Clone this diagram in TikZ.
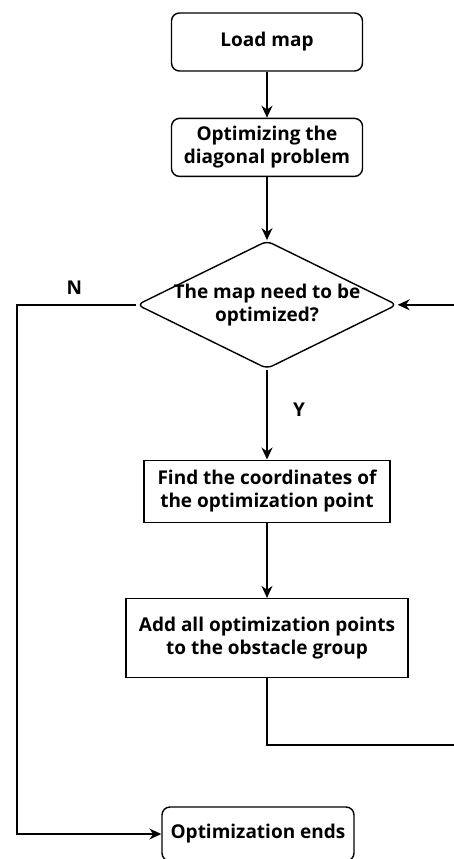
\documentclass[tikz,border=0pt]{standalone}
\usepackage{fontspec}
\setmainfont{Open Sans}
\usetikzlibrary{positioning,shapes.geometric,arrows.meta}

\begin{document}
\begin{tikzpicture}[font=\bfseries\fontsize{19}{23}\selectfont, line width=1.4pt, >={Stealth[length=12pt,width=11pt]},
    term/.style = {draw, rounded corners=8pt, align=center, inner sep=0pt, minimum width=191pt, minimum height=58pt},
    proc/.style = {draw, align=center, inner sep=0pt},
    choice/.style = {draw, diamond, aspect=2, rounded corners=6pt, inner sep=0pt, minimum width=260pt, minimum height=128pt}]
    \useasboundingbox (0,0) rectangle (454pt,-859pt);
    \node[term] (load) at (267pt,-42pt) {Load map};
    \node[term] (diag) [below=46pt of load] {Optimizing the\\diagonal problem};
    \node[choice, label={[align=center]center:The map need to be\\optimized?}] (need) [below=63pt of diag] {};
    \node[proc, minimum width=246pt, minimum height=62pt] (find) [below=90pt of need] {Find the coordinates of\\the optimization point};
    \node[proc, minimum width=282pt, minimum height=79pt] (add) [below=75pt of find] {Add all optimization points\\to the obstacle group};
    \node[term, minimum width=192pt, minimum height=54pt] (end) [below=128pt of add, xshift=-9pt] {Optimization ends};
    \coordinate (nl) at (17pt,0);
    \coordinate (rl) at (460pt,-745pt);
    \draw[->] (load) -- (diag);
    \draw[->] (diag) -- (need);
    \draw[->] (need) -- node[right, pos=0.45, xshift=22pt] (ylab) {Y} (find);
    \draw[->] (find) -- (add);
    \draw[->] (add.south) |- (rl) |- (need.east);
    \draw[->] (need.west) -- node[above, pos=0.52, yshift=6pt] (nlab) {N} (need.west -| nl) |- (end.west);
\end{tikzpicture}
\end{document}
